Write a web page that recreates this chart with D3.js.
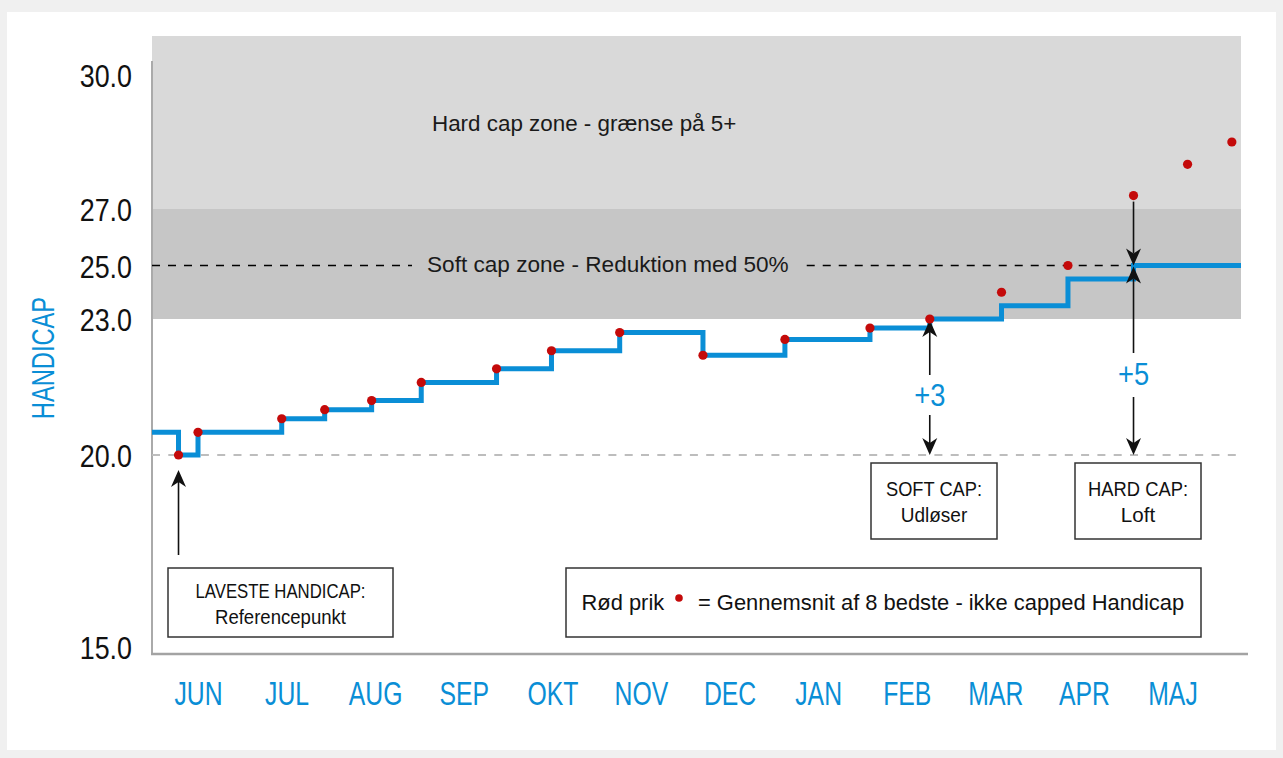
<!DOCTYPE html>
<html><head><meta charset="utf-8">
<script src="https://cdn.jsdelivr.net/npm/d3@7"></script>
<style>
html,body{margin:0;padding:0;background:#f0f0f0;}
svg{display:block;}
text{font-family:"Liberation Sans",Arial,Helvetica,sans-serif;}
</style></head><body>
<svg id="chart" width="1283" height="758"></svg>
<script>
// ---------- data ----------
const months = ["JUN","JUL","AUG","SEP","OKT","NOV","DEC","JAN","FEB","MAR","APR","MAJ"];
const yTickValues = [15, 20, 23, 25, 27, 30];
const yTickLabels = ["15.0", "20.0", "23.0", "25.0", "27.0", "30.0"];
// time of each round, in months from mid-June
const roundTime = [-0.22, 0.0, 0.945, 1.43, 1.96, 2.52, 3.37, 3.99, 4.76, 5.70, 6.625, 7.585, 8.26, 9.07, 9.82, 10.56, 11.17, 11.67];
// red dots: average of 8 best, not capped
const avgBest8 = [20.0, 20.5, 20.8, 21.0, 21.2, 21.6, 21.9, 22.3, 22.7, 22.2, 22.55, 22.8, 23.0, 24.0, 25.0, 27.3, 28.0, 28.5];
// blue step line: capped handicap after each round
const cappedHcp = [20.0, 20.5, 20.8, 21.0, 21.2, 21.6, 21.9, 22.3, 22.7, 22.2, 22.55, 22.8, 23.0, 23.5, 24.5, 25.0, 25.0, 25.0];
const startHcp = 20.5;
const lowestHcp = 20, softZoneLow = 23, hardZoneLow = 27, hardCapValue = 25;
const softIdx = 12, hardIdx = 15, lowIdx = 0;
const zoneTexts = ["Hard cap zone - grænse på 5+", "Soft cap zone - Reduktion med 50%"];
const boxTexts = [["LAVESTE HANDICAP:", "Referencepunkt"], ["SOFT CAP:", "Udløser"], ["HARD CAP:", "Loft"]];
const legendTexts = ["Rød prik", "= Gennemsnit af 8 bedste - ikke capped Handicap"];
const deltaLabels = ["+3", "+5"];

// ---------- layout ----------
const BLUE = "#0a8ed6", RED = "#c40a0a";
const L = 152, R = 1241, T = 36, B = 654;
const svg = d3.select("#chart");
svg.append("rect").attr("x", 7).attr("y", 12).attr("width", 1269).attr("height", 738).attr("fill", "#fff");

const x = d3.scaleLinear().domain([0, 11]).range([198, 1172.5]);
const y = d3.scaleLinear().domain(yTickValues).range([647, 455, 319, 265.5, 209, 75]);

// zones
svg.append("rect").attr("x", L).attr("y", T).attr("width", R - L).attr("height", y(hardZoneLow) - T).attr("fill", "#d9d9d9");
svg.append("rect").attr("x", L).attr("y", y(hardZoneLow)).attr("width", R - L).attr("height", y(softZoneLow) - y(hardZoneLow)).attr("fill", "#c6c6c6");

// axis lines
svg.append("line").attr("x1", L).attr("x2", L).attr("y1", 61).attr("y2", B).attr("stroke", "#aaa").attr("stroke-width", 2);
svg.append("line").attr("x1", L - 1).attr("x2", 1248).attr("y1", B).attr("y2", B).attr("stroke", "#a3a3a3").attr("stroke-width", 2.5);

// y axis labels
const yAxis = svg.append("g").attr("transform", "translate(132,0)")
  .call(d3.axisLeft(y).tickValues(yTickValues).tickFormat((d, i) => yTickLabels[i]).tickSize(0));
yAxis.select(".domain").remove();
yAxis.selectAll("text").attr("x", 0).attr("dy", "0.36em").attr("text-anchor", "end")
  .attr("transform", "scale(0.84,1)").style("font-size", "32px").style("font-family", "'Liberation Sans',Arial,sans-serif").attr("fill", "#111");

// x axis labels
const xAxis = svg.append("g").attr("transform", "translate(0,693)")
  .call(d3.axisBottom(x).tickValues(d3.range(months.length)).tickFormat(i => months[i]).tickSize(0));
xAxis.select(".domain").remove();
xAxis.selectAll(".tick text").attr("y", 0).attr("dy", "0.36em").attr("text-anchor", "middle")
  .attr("transform", "scale(0.74,1)").style("font-size", "33.5px").style("font-family", "'Liberation Sans',Arial,sans-serif").attr("fill", BLUE);

// y title
svg.append("text").attr("transform", "translate(54,358) rotate(-90) scale(0.74,1)")
  .attr("text-anchor", "middle").style("font-size", "32px").attr("fill", BLUE).text("HANDICAP");

// reference dashed line at lowest handicap
svg.append("line").attr("x1", L).attr("x2", R).attr("y1", y(lowestHcp)).attr("y2", y(lowestHcp))
  .attr("stroke", "#bdbdbd").attr("stroke-width", 2).attr("stroke-dasharray", "8,8.3");

// zone texts
svg.append("text").attr("x", 432).attr("y", 123).attr("dy", "0.36em").style("font-size", "22.4px").attr("fill", "#1a1a1a").text(zoneTexts[0]);
const softText = svg.append("text").attr("x", 427).attr("y", 263.5).attr("dy", "0.36em").style("font-size", "22.6px").attr("fill", "#1a1a1a").text(zoneTexts[1]);
const sb = softText.node().getBBox();
const dash25 = [[L, sb.x - 15], [sb.x + sb.width + 18, x(roundTime[hardIdx])]];
dash25.forEach(([a, b]) => {
  svg.append("line").attr("x1", a).attr("x2", b).attr("y1", y(hardCapValue)).attr("y2", y(hardCapValue))
    .attr("stroke", "#000").attr("stroke-width", 1.6).attr("stroke-dasharray", "8,8");
});

// step line
const tStart = x.invert(L), tEnd = x.invert(R);
const stepData = [{t: tStart, v: startHcp}]
  .concat(roundTime.map((t, i) => ({t, v: cappedHcp[i]})))
  .concat([{t: tEnd, v: cappedHcp[cappedHcp.length - 1]}]);
svg.append("path").datum(stepData)
  .attr("d", d3.line().x(d => x(d.t)).y(d => y(d.v)).curve(d3.curveStepAfter))
  .attr("fill", "none").attr("stroke", BLUE).attr("stroke-width", 5).attr("stroke-linejoin", "miter");

// arrows
function arrow(xp, yFrom, yTip) {
  const dir = yTip < yFrom ? 1 : -1; // 1 = pointing up
  const len = 17, hw = 7.5, notch = 12;
  svg.append("line").attr("x1", xp).attr("x2", xp).attr("y1", yFrom).attr("y2", yTip + dir * notch)
    .attr("stroke", "#111").attr("stroke-width", 1.6);
  svg.append("path").attr("d", `M${xp},${yTip} L${xp - hw},${yTip + dir * len} L${xp},${yTip + dir * notch} L${xp + hw},${yTip + dir * len} Z`)
    .attr("fill", "#111");
}
const xLow = x(roundTime[lowIdx]), xSoft = x(roundTime[softIdx]), xHard = x(roundTime[hardIdx]);
arrow(xLow, 555, y(avgBest8[lowIdx]) + 15);
arrow(xSoft, 375, y(avgBest8[softIdx]) + 1);
arrow(xSoft, 415, y(lowestHcp));
arrow(xHard, y(avgBest8[hardIdx]) + 6, y(hardCapValue));
arrow(xHard, 353, y(hardCapValue) + 1);
arrow(xHard, 397, y(lowestHcp));

// delta labels
[[xSoft, 395], [xHard, 374]].forEach(([xp, yp], i) => {
  svg.append("text").attr("transform", `translate(${xp},${yp}) scale(0.88,1)`).attr("dy", "0.36em")
    .attr("text-anchor", "middle").style("font-size", "31px").attr("fill", BLUE).text(deltaLabels[i]);
});

// dots
svg.append("g").selectAll("circle").data(roundTime).join("circle")
  .attr("cx", d => x(d)).attr("cy", (d, i) => y(avgBest8[i])).attr("r", 4.6).attr("fill", RED);

// annotation boxes
const boxes = [
  {x0: 168, x1: 393, y0: 568, y1: 637, w: [170, 131]},
  {x0: 871, x1: 997, y0: 463, y1: 539, w: [96, 66.6]},
  {x0: 1075, x1: 1201, y0: 463, y1: 539, w: [100, 34.3]}
];
boxes.forEach((b, i) => {
  svg.append("rect").attr("x", b.x0).attr("y", b.y0).attr("width", b.x1 - b.x0).attr("height", b.y1 - b.y0)
    .attr("fill", "#fff").attr("stroke", "#333").attr("stroke-width", 1.5);
  const cx = (b.x0 + b.x1) / 2, cy = (b.y0 + b.y1) / 2;
  boxTexts[i].forEach((s, j) => {
    svg.append("text").attr("x", cx).attr("y", cy + (j === 0 ? -12.5 : 13.5)).attr("dy", "0.36em")
      .attr("text-anchor", "middle").style("font-size", "21px").attr("fill", "#111")
      .attr("textLength", b.w[j]).attr("lengthAdjust", "spacingAndGlyphs").text(s);
  });
});

// legend box
svg.append("rect").attr("x", 566).attr("y", 568).attr("width", 635).attr("height", 69)
  .attr("fill", "#fff").attr("stroke", "#333").attr("stroke-width", 1.5);
svg.append("text").attr("x", 581.5).attr("y", 602).attr("dy", "0.36em").style("font-size", "21.9px").attr("fill", "#111").text(legendTexts[0]);
svg.append("circle").attr("cx", 679).attr("cy", 598).attr("r", 3.8).attr("fill", RED);
svg.append("text").attr("x", 698).attr("y", 602).attr("dy", "0.36em").style("font-size", "21.9px").attr("fill", "#111").text(legendTexts[1]);
</script>
</body></html>
